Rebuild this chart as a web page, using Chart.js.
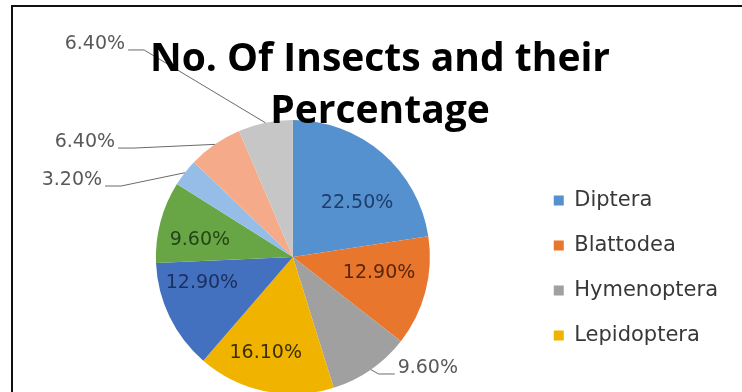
<!DOCTYPE html>
<html>
<head>
<meta charset="utf-8">
<script src="https://cdn.jsdelivr.net/npm/chart.js@4/dist/chart.umd.min.js"></script>
<style>
  html, body { margin: 0; padding: 0; background: #fff; overflow: hidden; }
  #frame { position: absolute; left: 11px; top: 5px; width: 900px; height: 600px;
           border-top: 2px solid #111; border-left: 2px solid #111; }
  #pie { position: absolute; left: 0; top: 0; }
</style>
</head>
<body>
<div id="frame"></div>
<canvas id="pie" width="742" height="400"></canvas>
<script>
// data
const orders = ['Diptera', 'Blattodea', 'Hymenoptera', 'Lepidoptera',
                'Coleoptera', 'Hemiptera', 'Odonata', 'Orthoptera', 'Others'];
const percents = [22.5, 12.9, 9.6, 16.1, 12.9, 9.6, 3.2, 6.4, 6.4];
const titleLines = ['No. Of Insects and their', 'Percentage'];
const legendCount = 4; // the legend only shows the first four

const sliceColors = ['#5590cf', '#e8762d', '#a0a0a0', '#f0b400',
                     '#4470c0', '#68a645', '#95bde8', '#f5ab8a', '#c6c6c6'];
const labelColors = ['#1f3d6b', '#5a2608', '#404040', '#3d2e00',
                     '#1b2f5c', '#244418', '#404040', '#404040', '#404040'];

// inside labels: distance from centre (in radii) and turn away from the slice middle (deg)
const inside = {
    0: { r: 0.61, turn: 9.5 },
    1: { r: 0.64, turn: -4 },
    3: { r: 0.73, turn: 4 },
    4: { r: 0.69, turn: 10 },
    5: { r: 0.69, turn: -4.5 }
};
// outside labels: label centre relative to pie centre (in radii)
const outside = {
    2: { dx: 0.985, dy: 0.81 },
    6: { dx: -1.613, dy: -0.562 },
    7: { dx: -1.518, dy: -0.839 },
    8: { dx: -1.445, dy: -1.555 }
};

const LABEL_FONT = '19px "DejaVu Sans", sans-serif';

const sliceLabels = {
    id: 'sliceLabels',
    afterDatasetsDraw(chart) {
        const ctx = chart.ctx;
        const meta = chart.getDatasetMeta(0);
        ctx.save();
        ctx.font = LABEL_FONT;
        ctx.textBaseline = 'middle';
        ctx.textAlign = 'center';
        meta.data.forEach((arc, i) => {
            const p = arc.getProps(['x', 'y', 'startAngle', 'endAngle', 'outerRadius'], true);
            const mid = (p.startAngle + p.endAngle) / 2;
            const text = percents[i].toFixed(2) + '%';
            const r = p.outerRadius;
            if (outside[i]) {
                const lx = p.x + outside[i].dx * r;
                const ly = p.y + outside[i].dy * r;
                const w = ctx.measureText(text).width;
                const ex = p.x + Math.cos(mid) * r;
                const ey = p.y + Math.sin(mid) * r;
                const side = lx < p.x ? 1 : -1;
                const sx = lx + side * (w / 2 + 3);
                const sy = ly + 6;
                ctx.strokeStyle = '#6a6a6a';
                ctx.lineWidth = 1;
                ctx.beginPath();
                ctx.moveTo(sx, sy);
                ctx.lineTo(sx + side * 16, sy);
                ctx.lineTo(ex, ey);
                ctx.stroke();
                ctx.fillStyle = '#595959';
                ctx.fillText(text, lx, ly);
            } else {
                const pos = inside[i] || { r: 0.68, turn: 0 };
                const a = mid + pos.turn * Math.PI / 180;
                const d = r * pos.r;
                ctx.fillStyle = labelColors[i];
                ctx.fillText(text, p.x + Math.cos(a) * d, p.y + Math.sin(a) * d);
            }
        });
        ctx.restore();
    },
    afterDraw(chart) {
        const ctx = chart.ctx;
        ctx.save();
        ctx.font = 'bold 39px "Open Sans", sans-serif';
        ctx.fillStyle = '#000';
        ctx.textAlign = 'center';
        ctx.textBaseline = 'alphabetic';
        ctx.fillText(titleLines[0], 380, 71);
        ctx.fillText(titleLines[1], 380, 123);
        ctx.restore();
    }
};

new Chart(document.getElementById('pie'), {
    type: 'pie',
    data: {
        labels: orders,
        datasets: [{
            data: percents,
            backgroundColor: sliceColors,
            borderWidth: 0
        }]
    },
    options: {
        responsive: false,
        devicePixelRatio: 1,
        animation: false,
        layout: { padding: { left: 56, right: 14, top: 120, bottom: 6 } },
        plugins: {
            tooltip: { enabled: false },
            legend: {
                position: 'right',
                align: 'start',
                title: { display: true, text: ' ', font: { size: 10 }, padding: { top: 34, bottom: 0 } },
                labels: {
                    boxWidth: 10,
                    boxHeight: 10,
                    padding: 24,
                    color: '#383838',
                    font: { family: '"DejaVu Sans", sans-serif', size: 21 },
                    filter: item => item.index < legendCount
                }
            }
        }
    },
    plugins: [sliceLabels]
});
</script>
</body>
</html>
